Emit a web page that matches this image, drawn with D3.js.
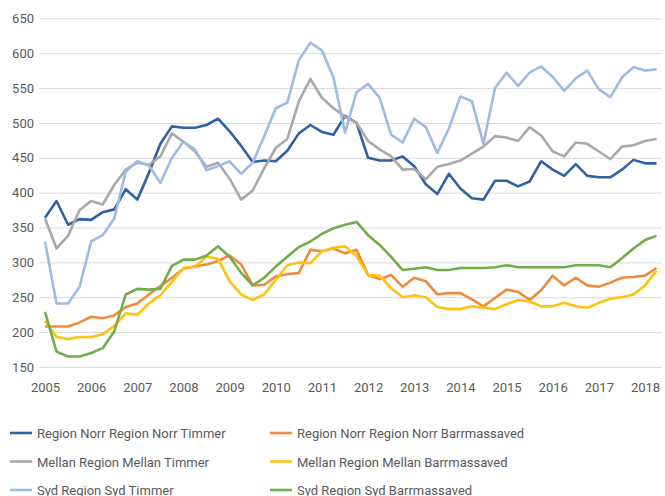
<!DOCTYPE html>
<html>
    <head>
        <meta charset="utf-8">
        <style>
            html, body {
                margin: 0px;
                padding: 0px;
                background-color: #fff;
                font-family: Roboto, sans-serif;
            }
            .grid line { stroke: #d9d9d9; stroke-width: 1; }
            .grid .domain { display: none; }
            .axis text { fill: #595959; font-size: 13px; font-family: Roboto, sans-serif; }
            .axis line, .axis .domain { display: none; }
            .legend text { fill: #595959; font-size: 13px; }
            .series { fill: none; stroke-width: 2.6; stroke-linejoin: round; }
        </style>
        <script src="https://cdn.jsdelivr.net/npm/d3@7"></script>
    </head>
    <body>
        <div id="main"></div>
        <script>
            // quarterly, 2005 Q1 .. 2018 Q2
            var startYear = 2005;
            var yearTicks = [2005, 2006, 2007, 2008, 2009, 2010, 2011, 2012, 2013, 2014, 2015, 2016, 2017, 2018];
            var valueTicks = [150, 200, 250, 300, 350, 400, 450, 500, 550, 600, 650];

            var norrTimmer = [364, 388, 354, 362, 361, 372, 376, 405, 390, 428, 470, 495, 493, 493, 497, 506,
                488, 467, 444, 446, 445, 460, 485, 497, 487, 483, 510, 500, 450, 446, 446, 452, 438, 412,
                398, 427, 406, 392, 390, 417, 417, 409, 416, 445, 433, 424, 441, 424, 422, 422, 433, 447, 442, 442];
            var mellanTimmer = [363, 320, 338, 375, 388, 383, 411, 433, 443, 440, 452, 485, 473, 459, 437, 443,
                420, 390, 403, 435, 464, 477, 531, 563, 536, 521, 509, 500, 474, 462, 452, 433, 434, 419,
                437, 441, 446, 456, 466, 481, 479, 474, 494, 482, 459, 452, 472, 470, 459, 448, 466, 468, 474, 477];
            var sydTimmer = [330, 241, 241, 265, 330, 339, 363, 430, 445, 439, 414, 450, 473, 462, 432, 438,
                445, 427, 443, 481, 521, 529, 590, 615, 604, 565, 486, 544, 556, 536, 483, 472, 506, 494,
                457, 492, 538, 531, 470, 550, 572, 553, 572, 581, 566, 546, 564, 575, 548, 537, 565, 580, 575, 577];
            var norrBarr = [208, 208, 208, 214, 222, 220, 224, 236, 241, 254, 266, 278, 291, 294, 297, 302,
                310, 297, 267, 268, 280, 283, 285, 318, 316, 320, 313, 318, 282, 276, 282, 265, 278, 273,
                254, 256, 256, 247, 237, 249, 261, 258, 246, 260, 281, 267, 278, 267, 265, 271, 278, 279, 281, 292];
            var mellanBarr = [216, 193, 190, 193, 193, 197, 209, 227, 225, 241, 253, 272, 292, 294, 308, 305,
                273, 254, 246, 254, 275, 296, 300, 299, 316, 321, 323, 309, 282, 281, 263, 250, 253, 250,
                236, 233, 233, 237, 235, 233, 240, 246, 244, 237, 237, 242, 237, 235, 242, 248, 250, 254, 267, 288];
            var sydBarr = [229, 172, 165, 165, 170, 177, 201, 254, 262, 261, 262, 295, 304, 304, 310, 323,
                308, 285, 267, 278, 294, 308, 322, 330, 341, 349, 354, 358, 339, 325, 308, 289, 291, 293,
                289, 289, 292, 292, 292, 293, 296, 293, 293, 293, 293, 293, 296, 296, 296, 293, 306, 320, 332, 338];

            var seriesNames = ["Region Norr Region Norr Timmer", "Region Norr Region Norr Barrmassaved",
                "Mellan Region Mellan Timmer", "Mellan Region Mellan Barrmassaved",
                "Syd Region Syd Timmer", "Syd Region Syd Barrmassaved"];
            var seriesValues = [norrTimmer, norrBarr, mellanTimmer, mellanBarr, sydTimmer, sydBarr];
            var seriesColors = ["#2f62a3", "#f08a3c", "#a9a9a9", "#ffc20e", "#9dbbe6", "#72ad4a"];

            var width = 665;
            var height = 496;

            function main() {
                var svg = d3.select("#main")
                    .append("svg")
                    .attr("width", width)
                    .attr("height", height);

                var x = d3.scaleLinear()
                    .domain([2005, 2018])
                    .range([45, 645]);

                var y = d3.scaleLinear()
                    .domain([150, 650])
                    .range([367, 18.3]);

                svg.append("g")
                    .attr("class", "grid")
                    .attr("transform", "translate(39,0)")
                    .call(d3.axisLeft(y).tickValues(valueTicks).tickSize(-623).tickFormat(""));

                svg.append("g")
                    .attr("class", "axis")
                    .attr("transform", "translate(38,0)")
                    .call(d3.axisLeft(y).tickValues(valueTicks).tickSize(0).tickPadding(4));

                svg.append("g")
                    .attr("class", "axis")
                    .attr("transform", "translate(0,379)")
                    .call(d3.axisBottom(x).tickValues(yearTicks).tickFormat(d3.format("d")).tickSize(0).tickPadding(4));

                var line = d3.line()
                    .x(function(d, i) { return x(startYear + i / 4); })
                    .y(function(d) { return y(d); });

                // draw order: timmer first, then barrmassaved
                [0, 2, 4, 1, 3, 5].forEach(function(k) {
                    svg.append("path")
                        .attr("class", "series")
                        .attr("d", line(seriesValues[k]))
                        .attr("stroke", seriesColors[k]);
                });

                var legend = svg.append("g").attr("class", "legend");
                seriesNames.forEach(function(name, k) {
                    var col = k % 2;
                    var row = Math.floor(k / 2);
                    var lx = col === 0 ? 10 : 270;
                    var ly = 433 + row * 28.5;
                    var item = legend.append("g").attr("transform", "translate(" + lx + "," + ly + ")");
                    item.append("line")
                        .attr("x1", 0).attr("x2", 22)
                        .attr("y1", 0).attr("y2", 0)
                        .attr("stroke", seriesColors[k])
                        .attr("stroke-width", 2.6);
                    item.append("text")
                        .attr("x", 27)
                        .attr("y", 5)
                        .text(name);
                });
            }

            main();
        </script>
    </body>
</html>
